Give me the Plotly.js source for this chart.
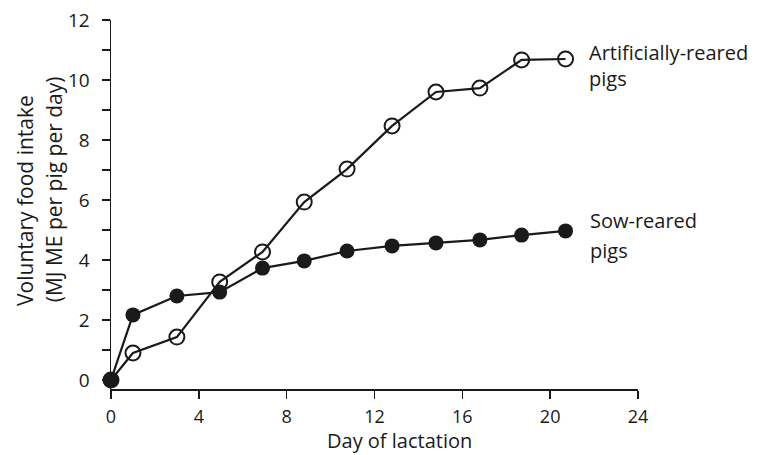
<!DOCTYPE html>
<html>
<head>
<meta charset="utf-8">
<script src="https://cdn.plot.ly/plotly-3.0.1.min.js"></script>
<style>html,body{margin:0;padding:0;background:#fff;}#chart{width:759px;height:455px;}</style>
</head>
<body>
<div id="chart"></div>
<script>
// Day of lactation
const days = [0, 1, 3, 4.95, 6.9, 8.8, 10.75, 12.8, 14.8, 16.8, 18.7, 20.7];
// Voluntary food intake, MJ ME per pig per day
const artificialIntake = [0, 0.9, 1.43, 3.27, 4.27, 5.93, 7.03, 8.47, 9.6, 9.73, 10.67, 10.7];
const sowIntake = [0, 2.17, 2.8, 2.93, 3.73, 3.97, 4.3, 4.47, 4.57, 4.67, 4.83, 4.97];
const xTicks = [0, 4, 8, 12, 16, 20, 24];
const yTicks = [0, 2, 4, 6, 8, 10, 12];
const seriesNames = ["Artificially-reared pigs", "Sow-reared pigs"];

const FONT = "Open Sans, Noto Sans, DejaVu Sans, sans-serif";
const INK = "#1a1a1a";

const traces = [
  {
    x: days, y: artificialIntake, name: seriesNames[0],
    mode: "lines+markers", cliponaxis: false,
    line: {color: INK, width: 2.2},
    marker: {symbol: "circle-open", size: 15, color: INK, line: {width: 2, color: INK}}
  },
  {
    x: days, y: sowIntake, name: seriesNames[1],
    mode: "lines+markers", cliponaxis: false,
    line: {color: INK, width: 2.2},
    marker: {symbol: "circle", size: 15, color: INK}
  }
];

const layout = {
  width: 759, height: 455, autosize: false,
  paper_bgcolor: "#ffffff", plot_bgcolor: "#ffffff",
  margin: {l: 111, r: 121, t: 20, b: 66},
  showlegend: false,
  font: {family: FONT, color: INK, size: 20},
  xaxis: {
    range: [0, 24], tickvals: xTicks, ticktext: xTicks.map(String),
    ticks: "outside", ticklen: 8, tickwidth: 1.5, tickcolor: INK,
    showline: true, linecolor: INK, linewidth: 1.5,
    showgrid: false, zeroline: false,
    tickfont: {family: FONT, size: 18, color: INK},
    ticklabelstandoff: 3
  },
  yaxis: {
    range: [-0.3, 12], tickvals: yTicks, ticktext: yTicks.map(String),
    ticks: "outside", ticklen: 8, tickwidth: 1.5, tickcolor: INK,
    minor: {dtick: 1, tick0: 0, ticks: "outside", ticklen: 8, tickwidth: 1.5, tickcolor: INK, showgrid: false},
    showline: true, linecolor: INK, linewidth: 1.5,
    showgrid: false, zeroline: false,
    tickfont: {family: FONT, size: 19, color: INK},
    ticklabelstandoff: 8
  },
  annotations: [
    {text: "Artificially-reared", x: 21.68, y: 10.93, xref: "x", yref: "y", xanchor: "left", yanchor: "middle", showarrow: false, font: {size: 20}},
    {text: "pigs", x: 21.68, y: 10.05, xref: "x", yref: "y", xanchor: "left", yanchor: "middle", showarrow: false, font: {size: 20}},
    {text: "Sow-reared", x: 21.72, y: 5.32, xref: "x", yref: "y", xanchor: "left", yanchor: "middle", showarrow: false, font: {size: 20}},
    {text: "pigs", x: 21.72, y: 4.32, xref: "x", yref: "y", xanchor: "left", yanchor: "middle", showarrow: false, font: {size: 20}},
    {text: "Day of lactation", x: 0.548, y: -0.179, xref: "paper", yref: "paper", xanchor: "center", yanchor: "bottom", borderpad: 0, showarrow: false, font: {size: 20}},
    {text: "Voluntary food intake", x: -0.163, y: 0.51, xref: "paper", yref: "paper", xanchor: "center", yanchor: "middle", textangle: -90, showarrow: false, font: {size: 21}},
    {text: "(MJ ME per pig per day)", x: -0.109, y: 0.54, xref: "paper", yref: "paper", xanchor: "center", yanchor: "middle", textangle: -90, showarrow: false, font: {size: 21}}
  ]
};

Plotly.newPlot("chart", traces, layout, {displayModeBar: false, staticPlot: true});
</script>
</body>
</html>
